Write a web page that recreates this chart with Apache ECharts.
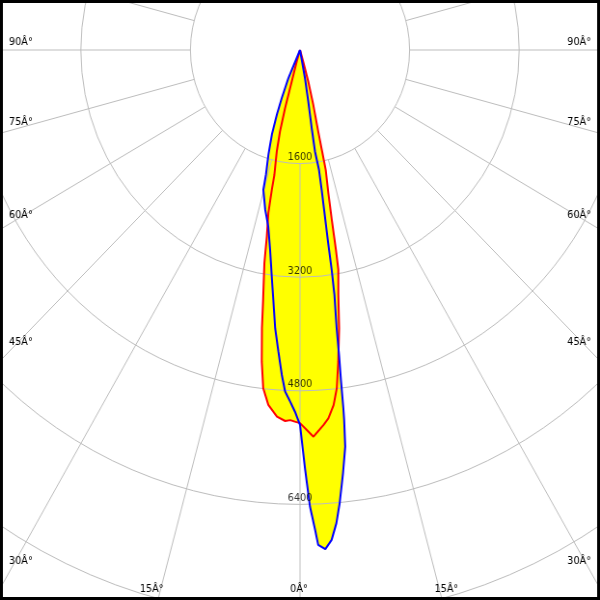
<!DOCTYPE html>
<html>
<head>
<meta charset="utf-8">
<script src="https://cdn.jsdelivr.net/npm/echarts@6/dist/echarts.min.js"></script>
<style>
html,body{margin:0;padding:0;background:#fff;overflow:hidden}
#wrap{width:600px;height:600px;overflow:hidden;position:relative}
#c{width:622px;height:600px;transform:scaleX(0.96463);transform-origin:0 0}
</style>
</head>
<body>
<div id="wrap"><div id="c"></div></div>
<script>
// ---- data (gamma angle in degrees, 0 = straight down, + = right side; intensity in cd) ----
const redAngles = [-90, -16.35, -15.21, -14.91, -14.29, -13.36, -12.01, -11.81, -11.39, -10.46, -9.84, -8.70, -8.08, -7.25, -6.43, -5.29, -3.73, -2.38, -1.56, -0.83, 0, 2.07, 3.73, 4.56, 5.60, 6.43, 7.25, 8.29, 9.22, 10.25, 10.56, 10.98, 11.60, 12.53, 12.74, 13.04, 14.08, 15.21, 16.04, 90];
const redValues = [0, 170, 460, 850, 1185, 1470, 1800, 2010, 2340, 2670, 3045, 3560, 3955, 4425, 4795, 5020, 5175, 5230, 5215, 5235, 5255, 5450, 5290, 5205, 5025, 4795, 4425, 3960, 3495, 3145, 2860, 2435, 2060, 1730, 1465, 1180, 800, 460, 150, 0];

const blueAngles = [-90, -23.24, -21.50, -20.37, -19.03, -17.38, -15.83, -15.21, -12.74, -10.56, -8.81, -7.36, -6.32, -5.29, -4.25, -3.32, -2.59, -1.66, -0.83, -0.31, 0, 0.26, 0.73, 1.30, 1.87, 2.18, 3.01, 3.83, 4.56, 5.18, 6.01, 6.74, 7.05, 7.15, 7.31, 7.56, 7.77, 8.29, 8.50, 8.60, 8.81, 9.12, 9.32, 8.70, 8.81, 9.43, 10.36, 90];
const blueValues = [0, 430, 730, 970, 1260, 1545, 1825, 2040, 2305, 2530, 2850, 3220, 3540, 3935, 4260, 4585, 4815, 4955, 5095, 5210, 5280, 5490, 5915, 6435, 6765, 6975, 7040, 6915, 6685, 6410, 5995, 5625, 5250, 5085, 4710, 4330, 3955, 3485, 3130, 2750, 2375, 1995, 1710, 1450, 1115, 740, 405, 0];

const radiusTickValues = [1600, 3200, 4800, 6400];
const radiusTickLabels = ['1600', '3200', '4800', '6400'];
const angleTickValues = [0, 15, 30, 45, 60, 75, 90];
const angleTickLabels = ['0Â°', '15Â°', '30Â°', '45Â°', '60Â°', '75Â°', '90Â°'];

// ---- layout ----
const SX = 0.96463;            // horizontal squeeze of the picture
const W = 600, H = 600;        // picture size
const CW = 622;                // chart width before squeeze
const CX = 311, CY = 50;       // polar centre in chart space
const RSTEP = 113.6;           // pixels per radius tick step
const STEP = 1600;
const RMAX = 9600;
const ROUT = RSTEP * RMAX / STEP;
const GRID = '#bdbdbd';
const FONT = '10px "DejaVu Sans", Verdana, sans-serif';

function pairs(a, v) { return a.map((x, i) => [v[i], x]); }
const redData = pairs(redAngles, redValues);
const blueData = pairs(blueAngles, blueValues);

const angleAxisBase = {
  type: 'value', min: -180, max: 180, interval: 15,
  startAngle: 90, clockwise: false,
  axisLine: { show: false }, axisTick: { show: false }, axisLabel: { show: false }
};

// angle labels along the picture edge (positions in picture pixels, then into chart space)
const graphics = [];
const pcx = 300, pcy = 50;
angleTickValues.forEach((a, i) => {
  const sides = a === 0 ? [0] : [-1, 1];
  sides.forEach(side => {
    const rad = a * Math.PI / 180;
    let el;
    if (a !== 0) {
      const yEdge = pcy + pcx / Math.tan(rad);
      if (yEdge <= H) {
        el = { x: side < 0 ? 9 : W - 9, y: yEdge - 8, align: side < 0 ? 'left' : 'right' };
      }
    }
    if (!el) {
      const xb = pcx + side * (H - pcy) * Math.tan(rad);
      el = { x: xb - 1, y: H - 11, align: 'center' };
    }
    graphics.push({
      type: 'text', x: el.x / SX, y: el.y, z: 10,
      style: { text: angleTickLabels[i], fill: '#000', font: FONT,
               align: el.align, textAlign: el.align, verticalAlign: 'middle', textVerticalAlign: 'middle' }
    });
  });
});
graphics.push({
  type: 'rect', z: 20, silent: true,
  shape: { x: 1.5, y: 1.5, width: CW - 3, height: H - 3 },
  style: { fill: 'none', stroke: '#000', lineWidth: 3 }
});

const chart = echarts.init(document.getElementById('c'), null, { renderer: 'canvas' });
chart.setOption({
  backgroundColor: '#ffffff',
  animation: false,
  polar: [
    { center: [CX, CY], radius: ROUT },
    { center: [CX, CY], radius: [RSTEP, ROUT] }
  ],
  angleAxis: [
    Object.assign({ polarIndex: 0, splitLine: { show: false }, z: 2 }, angleAxisBase),
    Object.assign({ polarIndex: 1, z: 2, splitLine: { show: true, lineStyle: { color: GRID, width: 1 } } }, angleAxisBase)
  ],
  radiusAxis: [
    { polarIndex: 0, type: 'value', min: 0, max: RMAX, interval: STEP, z: 2,
      axisLine: { show: false }, axisTick: { show: false }, axisLabel: { show: false },
      splitLine: { show: true, lineStyle: { color: GRID, width: 1 } } },
    { polarIndex: 1, type: 'value', min: 0, max: 1, show: false,
      axisLine: { show: false }, axisTick: { show: false }, axisLabel: { show: false }, splitLine: { show: false } }
  ],
  graphic: { elements: graphics },
  series: [
    { type: 'line', coordinateSystem: 'polar', polarIndex: 0, data: redData, z: 1,
      showSymbol: false, symbol: 'none', silent: true,
      lineStyle: { width: 0, opacity: 0 }, areaStyle: { color: '#ffff00', opacity: 1 } },
    { type: 'line', coordinateSystem: 'polar', polarIndex: 0, data: blueData, z: 1,
      showSymbol: false, symbol: 'none', silent: true,
      lineStyle: { width: 0, opacity: 0 }, areaStyle: { color: '#ffff00', opacity: 1 } },
    { type: 'line', coordinateSystem: 'polar', polarIndex: 0, data: redData, z: 3,
      showSymbol: false, symbol: 'none', silent: true,
      lineStyle: { color: '#ff0000', width: 2 } },
    { type: 'line', coordinateSystem: 'polar', polarIndex: 0, data: blueData, z: 3,
      showSymbol: false, symbol: 'none', silent: true,
      lineStyle: { color: '#0000ff', width: 2 } },
    { type: 'scatter', coordinateSystem: 'polar', polarIndex: 0, z: 4, silent: true,
      data: radiusTickValues.map(v => [v, 0]),
      symbolSize: 1, itemStyle: { color: 'transparent' },
      label: { show: true, position: 'inside', offset: [0, -6], color: '#000',
               fontFamily: '"DejaVu Sans", Verdana, sans-serif', fontSize: 10,
               formatter: p => radiusTickLabels[p.dataIndex] } }
  ]
});
</script>
</body>
</html>
